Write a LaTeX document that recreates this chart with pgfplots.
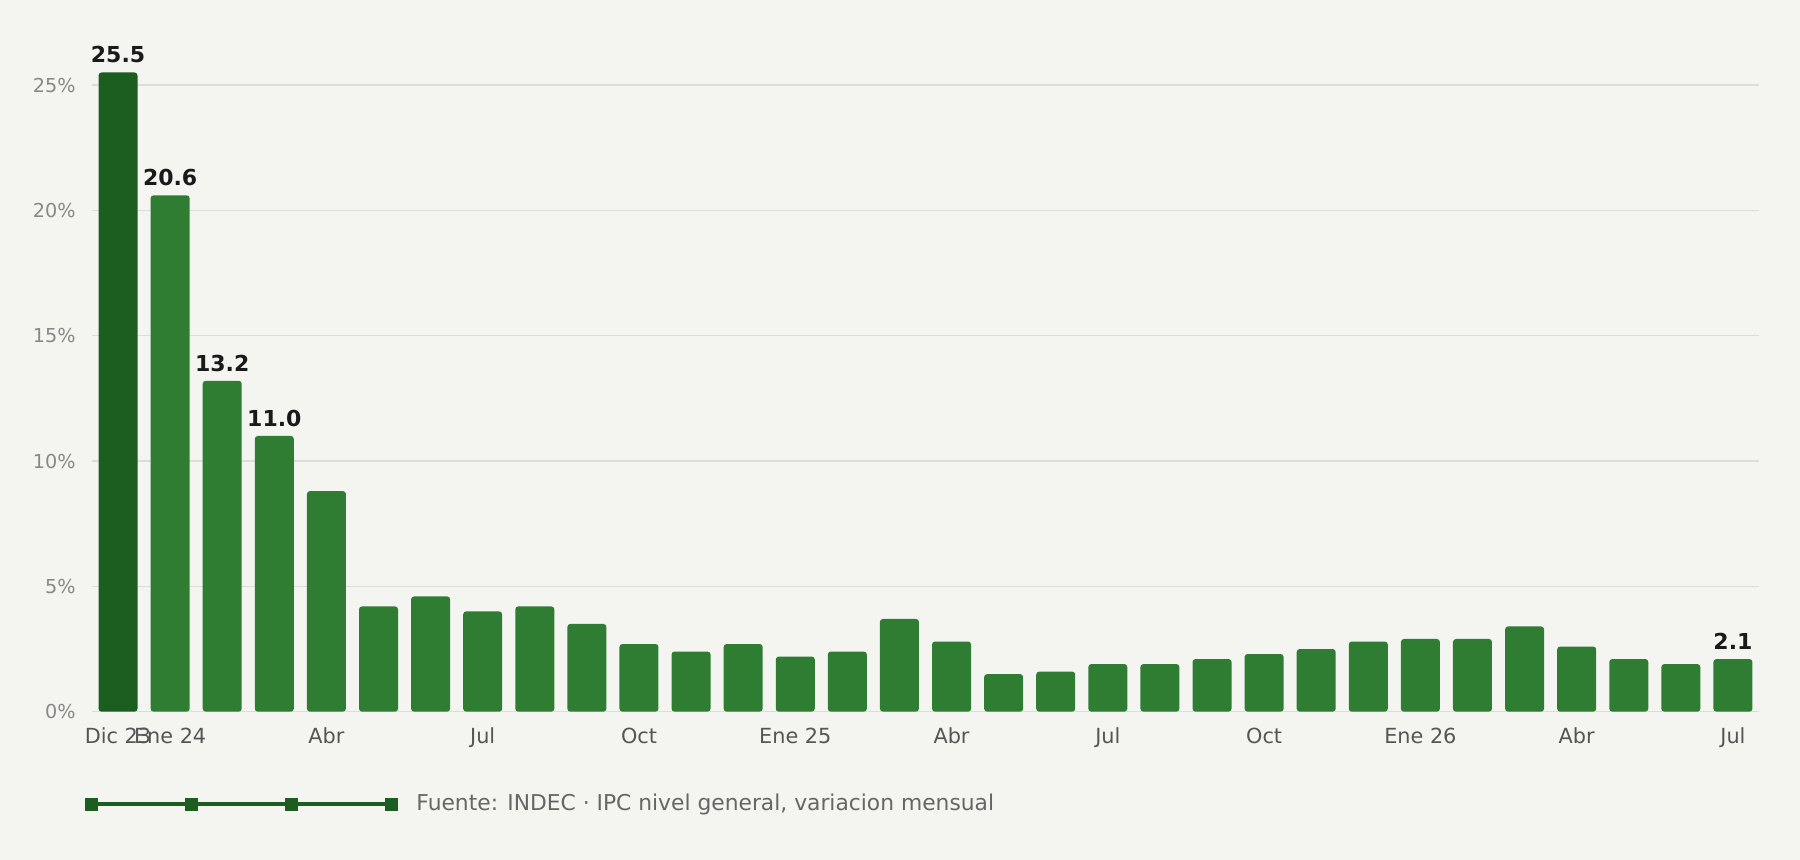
\documentclass[border=0pt]{standalone}
\usepackage{pgfplots}
\pgfplotsset{compat=1.18}
\usepackage{fontspec}
\setmainfont{DejaVu Sans}
\definecolor{bg}{HTML}{F4F5F0}
\definecolor{dgreen}{HTML}{1B5E20}
\definecolor{bgreen}{HTML}{2E7D32}
\definecolor{gridc}{HTML}{DDDDD8}
\definecolor{ytc}{HTML}{888888}
\definecolor{xtc}{HTML}{555555}
\definecolor{valc}{HTML}{1A1A1A}
\definecolor{footc}{HTML}{666666}
\begin{document}
\begin{tikzpicture}
\fill[bg] (0,0) rectangle (900pt,430pt);
\begin{axis}[
  at={(46pt,74.15pt)}, anchor=south west,
  scale only axis, width=833.5pt, height=338.4pt,
  xmin=-0.5, xmax=31.5, ymin=0, ymax=27,
  enlargelimits=false, clip=false,
  axis line style={draw=none},
  tick style={draw=none}, major tick length=0pt,
  ymajorgrids, grid style={gridc, line width=0.7pt},
  ytick={0,5,10,15,20,25},
  yticklabel={\pgfmathprintnumber{\tick}\%},
  yticklabel style={text=ytc, font=\fontsize{9.6}{11}\selectfont, xshift=-4.7pt},
  xtick={0,1,4,7,10,13,16,19,22,25,28,31},
  xticklabels={Dic 23,Ene 24,Abr,Jul,Oct,Ene 25,Abr,Jul,Oct,Ene 26,Abr,Jul},
  xticklabel style={text=xtc, font=\fontsize{10.4}{12}\selectfont, yshift=-4.6pt},
  /pgf/number format/assume math mode=true,
  ybar, bar width=19.5pt,
  legend style={at={(axis description cs:0,-0.1364)}, anchor=west, xshift=-3.5pt,
    draw=none, fill=none, inner sep=0pt, outer sep=0pt,
    font=\fontsize{10.9}{13}\selectfont, text=footc, cells={anchor=west}},
]
\addplot[fill=dgreen, draw=none, bar shift=0pt, rounded corners=1.5pt, forget plot]
  coordinates {(0,25.5)};
\addplot[fill=bgreen, draw=none, bar shift=0pt, rounded corners=1.5pt, forget plot]
  coordinates {(1,20.6) (2,13.2) (3,11.0) (4,8.8) (5,4.2) (6,4.6) (7,4.0) (8,4.2)
  (9,3.5) (10,2.7) (11,2.4) (12,2.7) (13,2.2) (14,2.4) (15,3.7) (16,2.8) (17,1.5)
  (18,1.6) (19,1.9) (20,1.9) (21,2.1) (22,2.3) (23,2.5) (24,2.8) (25,2.9) (26,2.9)
  (27,3.4) (28,2.6) (29,2.1) (30,1.9) (31,2.1)};
\addplot[draw=none, fill=none, bar shift=0pt, forget plot,
  nodes near coords, point meta=explicit symbolic,
  every node near coord/.style={font=\bfseries\fontsize{11}{13}\selectfont, text=valc, anchor=south, inner sep=0pt, yshift=4.4pt}]
  coordinates {(0,25.5)[25.5] (1,20.6)[20.6] (2,13.2)[13.2] (3,11.0)[11.0] (31,2.1)[2.1]};
\addlegendimage{legend image code/.code={
  \draw[line width=2pt, dgreen] (0pt,0pt) -- (150pt,0pt);
  \foreach \xx in {0,50,100,150} {\fill[dgreen] (\xx pt,0pt) +(-3pt,-3pt) rectangle +(3pt,3pt);}
}}
\addlegendentry{\hspace*{7.3pt}Fuente: INDEC · IPC nivel general, variacion mensual}
\end{axis}
\end{tikzpicture}
\end{document}
